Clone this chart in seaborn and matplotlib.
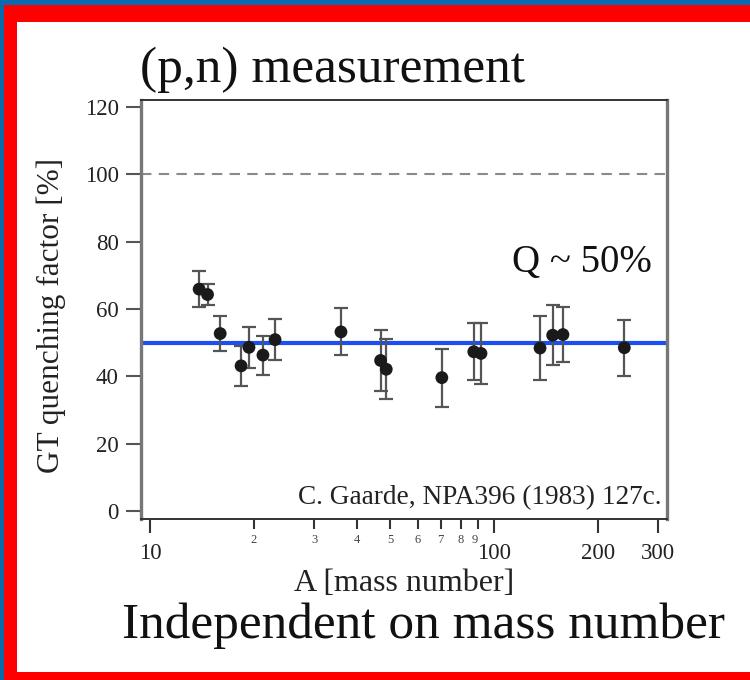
import matplotlib
matplotlib.use("Agg")
import matplotlib.pyplot as plt
from matplotlib.patches import Rectangle
import seaborn as sns
import pandas as pd

# ---- data ----
mass_number = [13.9, 14.7, 16.0, 18.4, 19.4, 21.3, 23.1, 35.9, 46.8, 48.6,
               70.5, 87.3, 91.6, 136, 148, 158.5, 239]
quenching = [65.9, 64.3, 52.7, 43.1, 48.6, 46.3, 50.9, 53.2, 44.7, 42.1,
             39.6, 47.3, 46.8, 48.4, 52.2, 52.4, 48.5]
error = [5.3, 3.0, 5.3, 6.0, 6.0, 5.8, 6.1, 7.0, 9.2, 8.9,
         8.6, 8.5, 9.0, 9.5, 8.9, 8.2, 8.3]
q_mean = 50
unity = 100
y_ticks = [0, 20, 40, 60, 80, 100, 120]
x_major = [10, 100, 200, 300]
x_minor = [20, 30, 40, 50, 60, 70, 80, 90]
x_minor_labels = ["2", "3", "4", "5", "6", "7", "8", "9"]

df = pd.DataFrame({"A": mass_number, "Q": quenching, "err": error})

sns.set_theme(style="ticks")
plt.rcParams["font.family"] = ["Liberation Serif", "DejaVu Serif"]

W, H = 750, 680
fig = plt.figure(figsize=(7.5, 6.8), dpi=100)

# frame: blue strip, red border, white inside
fig.patches.append(Rectangle((0, 0), 1, 1, transform=fig.transFigure,
                             facecolor="#0b6aad", edgecolor="none", zorder=-3))
fig.patches.append(Rectangle((4 / W, 0), 1, 1 - 5 / H, transform=fig.transFigure,
                             facecolor="#ff0000", edgecolor="none", zorder=-2))
fig.patches.append(Rectangle((17 / W, 8 / H), 1, 1 - 30 / H, transform=fig.transFigure,
                             facecolor="white", edgecolor="none", zorder=-1))

ax = fig.add_axes([141 / W, 1 - 519 / H, (667 - 141) / W, (519 - 100) / H])
ax.set_facecolor("white")

ax.axhline(unity, color="#8a8a8a", lw=1.5, dashes=(5, 3.5), zorder=1)
ax.axhline(q_mean, color="#1b4ff2", lw=3.0, zorder=2)

ax.errorbar(df["A"], df["Q"], yerr=df["err"], fmt="none", ecolor="#555555",
            elinewidth=1.6, capsize=5, capthick=1.6, zorder=3)
sns.scatterplot(data=df, x="A", y="Q", ax=ax, color="#1a1a1a", s=85,
                edgecolor="none", linewidth=0, zorder=4, legend=False)

ax.set_xscale("log")
ax.set_xlim(9.42, 318)
ax.set_ylim(-2.4, 122.1)

ax.set_yticks(y_ticks)
ax.set_yticklabels([str(v) for v in y_ticks], fontsize=16.5)
ax.set_xticks(x_major)
ax.set_xticklabels([str(v) for v in x_major], fontsize=16.5)
ax.set_xticks(x_minor, minor=True)
ax.set_xticklabels(x_minor_labels, minor=True, fontsize=9, color="#444444")

for lab in ax.get_xticklabels(minor=True):
    if lab.get_text() == "9":
        lab.set_horizontalalignment("right")

ax.tick_params(axis="y", which="major", length=11, width=1.5, color="#555555",
               pad=5, labelcolor="#222222")
ax.tick_params(axis="x", which="major", length=10, width=1.5, color="#333333",
               pad=7, labelcolor="#222222")
ax.tick_params(axis="x", which="minor", length=7, width=1.5, color="#333333",
               pad=4)

for side in ["top", "bottom"]:
    ax.spines[side].set_visible(True)
    ax.spines[side].set_color("#333333")
    ax.spines[side].set_linewidth(1.4)
for side in ["left", "right"]:
    ax.spines[side].set_visible(True)
    ax.spines[side].set_color("#777777")
    ax.spines[side].set_linewidth(2.4)

ax.set_xlabel("A [mass number]", fontsize=23, color="#222222", labelpad=4)
ax.set_ylabel("GT quenching factor [%]", fontsize=22.5, color="#222222")
ax.yaxis.set_label_coords(-0.143, 0.485)

ax.text(0.99, 0.05, "C. Gaarde, NPA396 (1983) 127c.", transform=ax.transAxes,
        ha="right", va="center", fontsize=19.6, color="#222222")
fig.text(512 / W, 1 - 262 / H, "Q ~ 50%", ha="left", va="center",
         fontsize=28, color="#111111")
fig.text(140 / W, 1 - 70 / H, "(p,n) measurement", ha="left", va="center",
         fontsize=37, color="#111111")
fig.text(122 / W, 1 - 626 / H, "Independent on mass number", ha="left",
         va="center", fontsize=37, color="#111111")

fig.savefig("out.png", dpi=100, facecolor="white")
